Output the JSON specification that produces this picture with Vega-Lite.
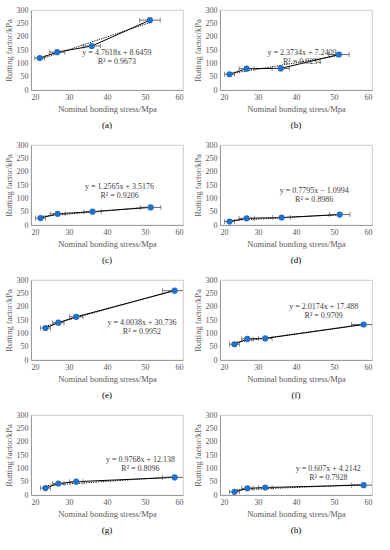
{
  "$schema": "https://vega.github.io/schema/vega-lite/v6.json",
  "padding": {"left": 3, "top": 5, "right": 4, "bottom": 4},
  "datasets": {"all": [
    {"panel": "(a)", "kind": "pt", "stress": 22.3, "factor": 120, "xlo": 21.0, "xhi": 23.6},
    {"panel": "(a)", "kind": "pt", "stress": 26.9, "factor": 142, "xlo": 24.9, "xhi": 28.9},
    {"panel": "(a)", "kind": "pt", "stress": 36.0, "factor": 165, "xlo": 33.7, "xhi": 38.3},
    {"panel": "(a)", "kind": "pt", "stress": 51.3, "factor": 262, "xlo": 48.6, "xhi": 54.0, "ylo": 254, "yhi": 270},
    {"panel": "(a)", "kind": "trend", "stress": 22.3, "factor": 114.8},
    {"panel": "(a)", "kind": "trend", "stress": 51.3, "factor": 252.9},
    {"panel": "(a)", "kind": "eq", "stress": 42.6, "factor": 140, "label": "y = 4.7618x + 8.6459\nR² = 0.9673"},
    {"panel": "(b)", "kind": "pt", "stress": 22.5, "factor": 59, "xlo": 21.2, "xhi": 23.8},
    {"panel": "(b)", "kind": "pt", "stress": 27.0, "factor": 80, "xlo": 25.0, "xhi": 29.0},
    {"panel": "(b)", "kind": "pt", "stress": 36.0, "factor": 81, "xlo": 33.7, "xhi": 38.3},
    {"panel": "(b)", "kind": "pt", "stress": 51.3, "factor": 133, "xlo": 48.6, "xhi": 54.0},
    {"panel": "(b)", "kind": "trend", "stress": 22.5, "factor": 60.6},
    {"panel": "(b)", "kind": "trend", "stress": 51.3, "factor": 129.0},
    {"panel": "(b)", "kind": "eq", "stress": 41.6, "factor": 138, "label": "y = 2.3734x + 7.2409\nR² = 0.9234"},
    {"panel": "(c)", "kind": "pt", "stress": 22.5, "factor": 26, "xlo": 21.2, "xhi": 23.8},
    {"panel": "(c)", "kind": "pt", "stress": 27.0, "factor": 42, "xlo": 25.0, "xhi": 29.0},
    {"panel": "(c)", "kind": "pt", "stress": 36.2, "factor": 50, "xlo": 33.9, "xhi": 38.5},
    {"panel": "(c)", "kind": "pt", "stress": 51.5, "factor": 66, "xlo": 48.8, "xhi": 54.2},
    {"panel": "(c)", "kind": "trend", "stress": 22.5, "factor": 31.8},
    {"panel": "(c)", "kind": "trend", "stress": 51.5, "factor": 68.2},
    {"panel": "(c)", "kind": "eq", "stress": 43.3, "factor": 141, "label": "y = 1.2565x + 3.5176\nR² = 0.9206"},
    {"panel": "(d)", "kind": "pt", "stress": 22.5, "factor": 13, "xlo": 21.2, "xhi": 23.8},
    {"panel": "(d)", "kind": "pt", "stress": 27.0, "factor": 25, "xlo": 25.0, "xhi": 29.0},
    {"panel": "(d)", "kind": "pt", "stress": 36.2, "factor": 28, "xlo": 33.9, "xhi": 38.5},
    {"panel": "(d)", "kind": "pt", "stress": 51.5, "factor": 39, "xlo": 48.8, "xhi": 54.2},
    {"panel": "(d)", "kind": "trend", "stress": 22.5, "factor": 16.4},
    {"panel": "(d)", "kind": "trend", "stress": 51.5, "factor": 39.0},
    {"panel": "(d)", "kind": "eq", "stress": 44.8, "factor": 128, "label": "y = 0.7795x − 1.0994\nR² = 0.8986"},
    {"panel": "(e)", "kind": "pt", "stress": 23.8, "factor": 120, "xlo": 22.5, "xhi": 25.1},
    {"panel": "(e)", "kind": "pt", "stress": 27.2, "factor": 140, "xlo": 25.7, "xhi": 28.7},
    {"panel": "(e)", "kind": "pt", "stress": 31.9, "factor": 162, "xlo": 30.1, "xhi": 33.7},
    {"panel": "(e)", "kind": "pt", "stress": 57.8, "factor": 260, "xlo": 54.6, "xhi": 61.0, "ylo": 252, "yhi": 268},
    {"panel": "(e)", "kind": "trend", "stress": 23.8, "factor": 126.0},
    {"panel": "(e)", "kind": "trend", "stress": 57.8, "factor": 262.2},
    {"panel": "(e)", "kind": "eq", "stress": 49.2, "factor": 137, "label": "y = 4.0038x + 30.736\nR² = 0.9952"},
    {"panel": "(f)", "kind": "pt", "stress": 23.8, "factor": 59, "xlo": 22.5, "xhi": 25.1},
    {"panel": "(f)", "kind": "pt", "stress": 27.2, "factor": 79, "xlo": 25.7, "xhi": 28.7},
    {"panel": "(f)", "kind": "pt", "stress": 31.9, "factor": 81, "xlo": 30.1, "xhi": 33.7},
    {"panel": "(f)", "kind": "pt", "stress": 57.8, "factor": 133, "xlo": 54.6, "xhi": 61.0},
    {"panel": "(f)", "kind": "trend", "stress": 23.8, "factor": 65.5},
    {"panel": "(f)", "kind": "trend", "stress": 57.8, "factor": 134.1},
    {"panel": "(f)", "kind": "eq", "stress": 47.3, "factor": 198, "label": "y = 2.0174x + 17.488\nR² = 0.9709"},
    {"panel": "(g)", "kind": "pt", "stress": 23.8, "factor": 26, "xlo": 22.5, "xhi": 25.1},
    {"panel": "(g)", "kind": "pt", "stress": 27.2, "factor": 43, "xlo": 25.7, "xhi": 28.7},
    {"panel": "(g)", "kind": "pt", "stress": 31.9, "factor": 50, "xlo": 30.1, "xhi": 33.7},
    {"panel": "(g)", "kind": "pt", "stress": 57.8, "factor": 66, "xlo": 54.6, "xhi": 61.0},
    {"panel": "(g)", "kind": "trend", "stress": 23.8, "factor": 35.4},
    {"panel": "(g)", "kind": "trend", "stress": 57.8, "factor": 68.6},
    {"panel": "(g)", "kind": "eq", "stress": 48.8, "factor": 130, "label": "y = 0.9768x + 12.138\nR² = 0.8096"},
    {"panel": "(h)", "kind": "pt", "stress": 23.8, "factor": 12, "xlo": 22.5, "xhi": 25.1},
    {"panel": "(h)", "kind": "pt", "stress": 27.2, "factor": 25, "xlo": 25.7, "xhi": 28.7},
    {"panel": "(h)", "kind": "pt", "stress": 31.9, "factor": 28, "xlo": 30.1, "xhi": 33.7},
    {"panel": "(h)", "kind": "pt", "stress": 57.8, "factor": 37, "xlo": 54.6, "xhi": 61.0},
    {"panel": "(h)", "kind": "trend", "stress": 23.8, "factor": 18.7},
    {"panel": "(h)", "kind": "trend", "stress": 57.8, "factor": 39.3},
    {"panel": "(h)", "kind": "eq", "stress": 48.5, "factor": 98, "label": "y = 0.607x + 4.2142\nR² = 0.7928"}
  ]},
  "columns": 2,
  "spacing": {"row": 10, "column": 8},
  "concat": [
    {"data": {"name": "all"}, "transform": [{"filter": "datum.panel == '(a)'"}], "title": "(a)", "width": 152, "height": 80,
     "encoding": {"x": {"field": "stress", "type": "quantitative", "scale": {"domain": [20, 60], "nice": false, "zero": false}, "axis": {"title": "Nominal bonding stress/Mpa", "values": [20, 30, 40, 50, 60]}},
                  "y": {"field": "factor", "type": "quantitative", "scale": {"domain": [0, 300], "nice": false}, "axis": {"title": "Rutting factor/kPa", "values": [0, 50, 100, 150, 200, 250, 300]}}},
     "layer": [
      {"transform": [{"filter": "datum.kind == 'trend'"}], "mark": {"type": "line", "color": "#000000", "strokeWidth": 1, "strokeDash": [1.2, 1.2]}},
      {"transform": [{"filter": "datum.kind == 'pt'"}], "mark": {"type": "line", "color": "#000000", "strokeWidth": 1}},
      {"transform": [{"filter": "datum.kind == 'pt'"}], "mark": {"type": "rule", "color": "#404040", "strokeWidth": 0.8, "clip": true},
       "encoding": {"x": {"field": "xlo", "type": "quantitative", "scale": {"domain": [20, 60], "nice": false, "zero": false}, "axis": {"title": "Nominal bonding stress/Mpa", "values": [20, 30, 40, 50, 60]}}, "x2": {"field": "xhi"}}},
      {"transform": [{"filter": "datum.kind == 'pt'"}], "mark": {"type": "tick", "color": "#404040", "orient": "vertical", "size": 5, "thickness": 0.8, "clip": true},
       "encoding": {"x": {"field": "xlo", "type": "quantitative", "scale": {"domain": [20, 60], "nice": false, "zero": false}, "axis": {"title": "Nominal bonding stress/Mpa", "values": [20, 30, 40, 50, 60]}}}},
      {"transform": [{"filter": "datum.kind == 'pt'"}], "mark": {"type": "tick", "color": "#404040", "orient": "vertical", "size": 5, "thickness": 0.8, "clip": true},
       "encoding": {"x": {"field": "xhi", "type": "quantitative", "scale": {"domain": [20, 60], "nice": false, "zero": false}, "axis": {"title": "Nominal bonding stress/Mpa", "values": [20, 30, 40, 50, 60]}}}},
      {"transform": [{"filter": "datum.kind == 'pt' && isValid(datum.ylo)"}], "mark": {"type": "rule", "color": "#404040", "strokeWidth": 0.8},
       "encoding": {"y": {"field": "ylo", "type": "quantitative", "scale": {"domain": [0, 300], "nice": false}, "axis": {"title": "Rutting factor/kPa", "values": [0, 50, 100, 150, 200, 250, 300]}}, "y2": {"field": "yhi"}}},
      {"transform": [{"filter": "datum.kind == 'pt'"}], "mark": {"type": "circle", "color": "#2271c9", "opacity": 1, "size": 38}},
      {"transform": [{"filter": "datum.kind == 'eq'"}], "mark": {"type": "text", "lineBreak": "\n", "align": "center", "baseline": "middle", "fontSize": 8, "lineHeight": 9, "color": "#404040"}, "encoding": {"text": {"field": "label"}}}
     ]},
    {"data": {"name": "all"}, "transform": [{"filter": "datum.panel == '(b)'"}], "title": "(b)", "width": 152, "height": 80,
     "encoding": {"x": {"field": "stress", "type": "quantitative", "scale": {"domain": [20, 60], "nice": false, "zero": false}, "axis": {"title": "Nominal bonding stress/Mpa", "values": [20, 30, 40, 50, 60]}},
                  "y": {"field": "factor", "type": "quantitative", "scale": {"domain": [0, 300], "nice": false}, "axis": {"title": "Rutting factor/kPa", "values": [0, 50, 100, 150, 200, 250, 300]}}},
     "layer": [
      {"transform": [{"filter": "datum.kind == 'trend'"}], "mark": {"type": "line", "color": "#000000", "strokeWidth": 1, "strokeDash": [1.2, 1.2]}},
      {"transform": [{"filter": "datum.kind == 'pt'"}], "mark": {"type": "line", "color": "#000000", "strokeWidth": 1}},
      {"transform": [{"filter": "datum.kind == 'pt'"}], "mark": {"type": "rule", "color": "#404040", "strokeWidth": 0.8, "clip": true},
       "encoding": {"x": {"field": "xlo", "type": "quantitative", "scale": {"domain": [20, 60], "nice": false, "zero": false}, "axis": {"title": "Nominal bonding stress/Mpa", "values": [20, 30, 40, 50, 60]}}, "x2": {"field": "xhi"}}},
      {"transform": [{"filter": "datum.kind == 'pt'"}], "mark": {"type": "tick", "color": "#404040", "orient": "vertical", "size": 5, "thickness": 0.8, "clip": true},
       "encoding": {"x": {"field": "xlo", "type": "quantitative", "scale": {"domain": [20, 60], "nice": false, "zero": false}, "axis": {"title": "Nominal bonding stress/Mpa", "values": [20, 30, 40, 50, 60]}}}},
      {"transform": [{"filter": "datum.kind == 'pt'"}], "mark": {"type": "tick", "color": "#404040", "orient": "vertical", "size": 5, "thickness": 0.8, "clip": true},
       "encoding": {"x": {"field": "xhi", "type": "quantitative", "scale": {"domain": [20, 60], "nice": false, "zero": false}, "axis": {"title": "Nominal bonding stress/Mpa", "values": [20, 30, 40, 50, 60]}}}},
      {"transform": [{"filter": "datum.kind == 'pt' && isValid(datum.ylo)"}], "mark": {"type": "rule", "color": "#404040", "strokeWidth": 0.8},
       "encoding": {"y": {"field": "ylo", "type": "quantitative", "scale": {"domain": [0, 300], "nice": false}, "axis": {"title": "Rutting factor/kPa", "values": [0, 50, 100, 150, 200, 250, 300]}}, "y2": {"field": "yhi"}}},
      {"transform": [{"filter": "datum.kind == 'pt'"}], "mark": {"type": "circle", "color": "#2271c9", "opacity": 1, "size": 38}},
      {"transform": [{"filter": "datum.kind == 'eq'"}], "mark": {"type": "text", "lineBreak": "\n", "align": "center", "baseline": "middle", "fontSize": 8, "lineHeight": 9, "color": "#404040"}, "encoding": {"text": {"field": "label"}}}
     ]},
    {"data": {"name": "all"}, "transform": [{"filter": "datum.panel == '(c)'"}], "title": "(c)", "width": 152, "height": 80,
     "encoding": {"x": {"field": "stress", "type": "quantitative", "scale": {"domain": [20, 60], "nice": false, "zero": false}, "axis": {"title": "Nominal bonding stress/Mpa", "values": [20, 30, 40, 50, 60]}},
                  "y": {"field": "factor", "type": "quantitative", "scale": {"domain": [0, 300], "nice": false}, "axis": {"title": "Rutting factor/kPa", "values": [0, 50, 100, 150, 200, 250, 300]}}},
     "layer": [
      {"transform": [{"filter": "datum.kind == 'trend'"}], "mark": {"type": "line", "color": "#000000", "strokeWidth": 1, "strokeDash": [1.2, 1.2]}},
      {"transform": [{"filter": "datum.kind == 'pt'"}], "mark": {"type": "line", "color": "#000000", "strokeWidth": 1}},
      {"transform": [{"filter": "datum.kind == 'pt'"}], "mark": {"type": "rule", "color": "#404040", "strokeWidth": 0.8, "clip": true},
       "encoding": {"x": {"field": "xlo", "type": "quantitative", "scale": {"domain": [20, 60], "nice": false, "zero": false}, "axis": {"title": "Nominal bonding stress/Mpa", "values": [20, 30, 40, 50, 60]}}, "x2": {"field": "xhi"}}},
      {"transform": [{"filter": "datum.kind == 'pt'"}], "mark": {"type": "tick", "color": "#404040", "orient": "vertical", "size": 5, "thickness": 0.8, "clip": true},
       "encoding": {"x": {"field": "xlo", "type": "quantitative", "scale": {"domain": [20, 60], "nice": false, "zero": false}, "axis": {"title": "Nominal bonding stress/Mpa", "values": [20, 30, 40, 50, 60]}}}},
      {"transform": [{"filter": "datum.kind == 'pt'"}], "mark": {"type": "tick", "color": "#404040", "orient": "vertical", "size": 5, "thickness": 0.8, "clip": true},
       "encoding": {"x": {"field": "xhi", "type": "quantitative", "scale": {"domain": [20, 60], "nice": false, "zero": false}, "axis": {"title": "Nominal bonding stress/Mpa", "values": [20, 30, 40, 50, 60]}}}},
      {"transform": [{"filter": "datum.kind == 'pt' && isValid(datum.ylo)"}], "mark": {"type": "rule", "color": "#404040", "strokeWidth": 0.8},
       "encoding": {"y": {"field": "ylo", "type": "quantitative", "scale": {"domain": [0, 300], "nice": false}, "axis": {"title": "Rutting factor/kPa", "values": [0, 50, 100, 150, 200, 250, 300]}}, "y2": {"field": "yhi"}}},
      {"transform": [{"filter": "datum.kind == 'pt'"}], "mark": {"type": "circle", "color": "#2271c9", "opacity": 1, "size": 38}},
      {"transform": [{"filter": "datum.kind == 'eq'"}], "mark": {"type": "text", "lineBreak": "\n", "align": "center", "baseline": "middle", "fontSize": 8, "lineHeight": 9, "color": "#404040"}, "encoding": {"text": {"field": "label"}}}
     ]},
    {"data": {"name": "all"}, "transform": [{"filter": "datum.panel == '(d)'"}], "title": "(d)", "width": 152, "height": 80,
     "encoding": {"x": {"field": "stress", "type": "quantitative", "scale": {"domain": [20, 60], "nice": false, "zero": false}, "axis": {"title": "Nominal bonding stress/Mpa", "values": [20, 30, 40, 50, 60]}},
                  "y": {"field": "factor", "type": "quantitative", "scale": {"domain": [0, 300], "nice": false}, "axis": {"title": "Rutting factor/kPa", "values": [0, 50, 100, 150, 200, 250, 300]}}},
     "layer": [
      {"transform": [{"filter": "datum.kind == 'trend'"}], "mark": {"type": "line", "color": "#000000", "strokeWidth": 1, "strokeDash": [1.2, 1.2]}},
      {"transform": [{"filter": "datum.kind == 'pt'"}], "mark": {"type": "line", "color": "#000000", "strokeWidth": 1}},
      {"transform": [{"filter": "datum.kind == 'pt'"}], "mark": {"type": "rule", "color": "#404040", "strokeWidth": 0.8, "clip": true},
       "encoding": {"x": {"field": "xlo", "type": "quantitative", "scale": {"domain": [20, 60], "nice": false, "zero": false}, "axis": {"title": "Nominal bonding stress/Mpa", "values": [20, 30, 40, 50, 60]}}, "x2": {"field": "xhi"}}},
      {"transform": [{"filter": "datum.kind == 'pt'"}], "mark": {"type": "tick", "color": "#404040", "orient": "vertical", "size": 5, "thickness": 0.8, "clip": true},
       "encoding": {"x": {"field": "xlo", "type": "quantitative", "scale": {"domain": [20, 60], "nice": false, "zero": false}, "axis": {"title": "Nominal bonding stress/Mpa", "values": [20, 30, 40, 50, 60]}}}},
      {"transform": [{"filter": "datum.kind == 'pt'"}], "mark": {"type": "tick", "color": "#404040", "orient": "vertical", "size": 5, "thickness": 0.8, "clip": true},
       "encoding": {"x": {"field": "xhi", "type": "quantitative", "scale": {"domain": [20, 60], "nice": false, "zero": false}, "axis": {"title": "Nominal bonding stress/Mpa", "values": [20, 30, 40, 50, 60]}}}},
      {"transform": [{"filter": "datum.kind == 'pt' && isValid(datum.ylo)"}], "mark": {"type": "rule", "color": "#404040", "strokeWidth": 0.8},
       "encoding": {"y": {"field": "ylo", "type": "quantitative", "scale": {"domain": [0, 300], "nice": false}, "axis": {"title": "Rutting factor/kPa", "values": [0, 50, 100, 150, 200, 250, 300]}}, "y2": {"field": "yhi"}}},
      {"transform": [{"filter": "datum.kind == 'pt'"}], "mark": {"type": "circle", "color": "#2271c9", "opacity": 1, "size": 38}},
      {"transform": [{"filter": "datum.kind == 'eq'"}], "mark": {"type": "text", "lineBreak": "\n", "align": "center", "baseline": "middle", "fontSize": 8, "lineHeight": 9, "color": "#404040"}, "encoding": {"text": {"field": "label"}}}
     ]},
    {"data": {"name": "all"}, "transform": [{"filter": "datum.panel == '(e)'"}], "title": "(e)", "width": 152, "height": 80,
     "encoding": {"x": {"field": "stress", "type": "quantitative", "scale": {"domain": [20, 60], "nice": false, "zero": false}, "axis": {"title": "Nominal bonding stress/Mpa", "values": [20, 30, 40, 50, 60]}},
                  "y": {"field": "factor", "type": "quantitative", "scale": {"domain": [0, 300], "nice": false}, "axis": {"title": "Rutting factor/kPa", "values": [0, 50, 100, 150, 200, 250, 300]}}},
     "layer": [
      {"transform": [{"filter": "datum.kind == 'trend'"}], "mark": {"type": "line", "color": "#000000", "strokeWidth": 1, "strokeDash": [1.2, 1.2]}},
      {"transform": [{"filter": "datum.kind == 'pt'"}], "mark": {"type": "line", "color": "#000000", "strokeWidth": 1}},
      {"transform": [{"filter": "datum.kind == 'pt'"}], "mark": {"type": "rule", "color": "#404040", "strokeWidth": 0.8, "clip": true},
       "encoding": {"x": {"field": "xlo", "type": "quantitative", "scale": {"domain": [20, 60], "nice": false, "zero": false}, "axis": {"title": "Nominal bonding stress/Mpa", "values": [20, 30, 40, 50, 60]}}, "x2": {"field": "xhi"}}},
      {"transform": [{"filter": "datum.kind == 'pt'"}], "mark": {"type": "tick", "color": "#404040", "orient": "vertical", "size": 5, "thickness": 0.8, "clip": true},
       "encoding": {"x": {"field": "xlo", "type": "quantitative", "scale": {"domain": [20, 60], "nice": false, "zero": false}, "axis": {"title": "Nominal bonding stress/Mpa", "values": [20, 30, 40, 50, 60]}}}},
      {"transform": [{"filter": "datum.kind == 'pt'"}], "mark": {"type": "tick", "color": "#404040", "orient": "vertical", "size": 5, "thickness": 0.8, "clip": true},
       "encoding": {"x": {"field": "xhi", "type": "quantitative", "scale": {"domain": [20, 60], "nice": false, "zero": false}, "axis": {"title": "Nominal bonding stress/Mpa", "values": [20, 30, 40, 50, 60]}}}},
      {"transform": [{"filter": "datum.kind == 'pt' && isValid(datum.ylo)"}], "mark": {"type": "rule", "color": "#404040", "strokeWidth": 0.8},
       "encoding": {"y": {"field": "ylo", "type": "quantitative", "scale": {"domain": [0, 300], "nice": false}, "axis": {"title": "Rutting factor/kPa", "values": [0, 50, 100, 150, 200, 250, 300]}}, "y2": {"field": "yhi"}}},
      {"transform": [{"filter": "datum.kind == 'pt'"}], "mark": {"type": "circle", "color": "#2271c9", "opacity": 1, "size": 38}},
      {"transform": [{"filter": "datum.kind == 'eq'"}], "mark": {"type": "text", "lineBreak": "\n", "align": "center", "baseline": "middle", "fontSize": 8, "lineHeight": 9, "color": "#404040"}, "encoding": {"text": {"field": "label"}}}
     ]},
    {"data": {"name": "all"}, "transform": [{"filter": "datum.panel == '(f)'"}], "title": "(f)", "width": 152, "height": 80,
     "encoding": {"x": {"field": "stress", "type": "quantitative", "scale": {"domain": [20, 60], "nice": false, "zero": false}, "axis": {"title": "Nominal bonding stress/Mpa", "values": [20, 30, 40, 50, 60]}},
                  "y": {"field": "factor", "type": "quantitative", "scale": {"domain": [0, 300], "nice": false}, "axis": {"title": "Rutting factor/kPa", "values": [0, 50, 100, 150, 200, 250, 300]}}},
     "layer": [
      {"transform": [{"filter": "datum.kind == 'trend'"}], "mark": {"type": "line", "color": "#000000", "strokeWidth": 1, "strokeDash": [1.2, 1.2]}},
      {"transform": [{"filter": "datum.kind == 'pt'"}], "mark": {"type": "line", "color": "#000000", "strokeWidth": 1}},
      {"transform": [{"filter": "datum.kind == 'pt'"}], "mark": {"type": "rule", "color": "#404040", "strokeWidth": 0.8, "clip": true},
       "encoding": {"x": {"field": "xlo", "type": "quantitative", "scale": {"domain": [20, 60], "nice": false, "zero": false}, "axis": {"title": "Nominal bonding stress/Mpa", "values": [20, 30, 40, 50, 60]}}, "x2": {"field": "xhi"}}},
      {"transform": [{"filter": "datum.kind == 'pt'"}], "mark": {"type": "tick", "color": "#404040", "orient": "vertical", "size": 5, "thickness": 0.8, "clip": true},
       "encoding": {"x": {"field": "xlo", "type": "quantitative", "scale": {"domain": [20, 60], "nice": false, "zero": false}, "axis": {"title": "Nominal bonding stress/Mpa", "values": [20, 30, 40, 50, 60]}}}},
      {"transform": [{"filter": "datum.kind == 'pt'"}], "mark": {"type": "tick", "color": "#404040", "orient": "vertical", "size": 5, "thickness": 0.8, "clip": true},
       "encoding": {"x": {"field": "xhi", "type": "quantitative", "scale": {"domain": [20, 60], "nice": false, "zero": false}, "axis": {"title": "Nominal bonding stress/Mpa", "values": [20, 30, 40, 50, 60]}}}},
      {"transform": [{"filter": "datum.kind == 'pt' && isValid(datum.ylo)"}], "mark": {"type": "rule", "color": "#404040", "strokeWidth": 0.8},
       "encoding": {"y": {"field": "ylo", "type": "quantitative", "scale": {"domain": [0, 300], "nice": false}, "axis": {"title": "Rutting factor/kPa", "values": [0, 50, 100, 150, 200, 250, 300]}}, "y2": {"field": "yhi"}}},
      {"transform": [{"filter": "datum.kind == 'pt'"}], "mark": {"type": "circle", "color": "#2271c9", "opacity": 1, "size": 38}},
      {"transform": [{"filter": "datum.kind == 'eq'"}], "mark": {"type": "text", "lineBreak": "\n", "align": "center", "baseline": "middle", "fontSize": 8, "lineHeight": 9, "color": "#404040"}, "encoding": {"text": {"field": "label"}}}
     ]},
    {"data": {"name": "all"}, "transform": [{"filter": "datum.panel == '(g)'"}], "title": "(g)", "width": 152, "height": 80,
     "encoding": {"x": {"field": "stress", "type": "quantitative", "scale": {"domain": [20, 60], "nice": false, "zero": false}, "axis": {"title": "Nominal bonding stress/Mpa", "values": [20, 30, 40, 50, 60]}},
                  "y": {"field": "factor", "type": "quantitative", "scale": {"domain": [0, 300], "nice": false}, "axis": {"title": "Rutting factor/kPa", "values": [0, 50, 100, 150, 200, 250, 300]}}},
     "layer": [
      {"transform": [{"filter": "datum.kind == 'trend'"}], "mark": {"type": "line", "color": "#000000", "strokeWidth": 1, "strokeDash": [1.2, 1.2]}},
      {"transform": [{"filter": "datum.kind == 'pt'"}], "mark": {"type": "line", "color": "#000000", "strokeWidth": 1}},
      {"transform": [{"filter": "datum.kind == 'pt'"}], "mark": {"type": "rule", "color": "#404040", "strokeWidth": 0.8, "clip": true},
       "encoding": {"x": {"field": "xlo", "type": "quantitative", "scale": {"domain": [20, 60], "nice": false, "zero": false}, "axis": {"title": "Nominal bonding stress/Mpa", "values": [20, 30, 40, 50, 60]}}, "x2": {"field": "xhi"}}},
      {"transform": [{"filter": "datum.kind == 'pt'"}], "mark": {"type": "tick", "color": "#404040", "orient": "vertical", "size": 5, "thickness": 0.8, "clip": true},
       "encoding": {"x": {"field": "xlo", "type": "quantitative", "scale": {"domain": [20, 60], "nice": false, "zero": false}, "axis": {"title": "Nominal bonding stress/Mpa", "values": [20, 30, 40, 50, 60]}}}},
      {"transform": [{"filter": "datum.kind == 'pt'"}], "mark": {"type": "tick", "color": "#404040", "orient": "vertical", "size": 5, "thickness": 0.8, "clip": true},
       "encoding": {"x": {"field": "xhi", "type": "quantitative", "scale": {"domain": [20, 60], "nice": false, "zero": false}, "axis": {"title": "Nominal bonding stress/Mpa", "values": [20, 30, 40, 50, 60]}}}},
      {"transform": [{"filter": "datum.kind == 'pt' && isValid(datum.ylo)"}], "mark": {"type": "rule", "color": "#404040", "strokeWidth": 0.8},
       "encoding": {"y": {"field": "ylo", "type": "quantitative", "scale": {"domain": [0, 300], "nice": false}, "axis": {"title": "Rutting factor/kPa", "values": [0, 50, 100, 150, 200, 250, 300]}}, "y2": {"field": "yhi"}}},
      {"transform": [{"filter": "datum.kind == 'pt'"}], "mark": {"type": "circle", "color": "#2271c9", "opacity": 1, "size": 38}},
      {"transform": [{"filter": "datum.kind == 'eq'"}], "mark": {"type": "text", "lineBreak": "\n", "align": "center", "baseline": "middle", "fontSize": 8, "lineHeight": 9, "color": "#404040"}, "encoding": {"text": {"field": "label"}}}
     ]},
    {"data": {"name": "all"}, "transform": [{"filter": "datum.panel == '(h)'"}], "title": "(h)", "width": 152, "height": 80,
     "encoding": {"x": {"field": "stress", "type": "quantitative", "scale": {"domain": [20, 60], "nice": false, "zero": false}, "axis": {"title": "Nominal bonding stress/Mpa", "values": [20, 30, 40, 50, 60]}},
                  "y": {"field": "factor", "type": "quantitative", "scale": {"domain": [0, 300], "nice": false}, "axis": {"title": "Rutting factor/kPa", "values": [0, 50, 100, 150, 200, 250, 300]}}},
     "layer": [
      {"transform": [{"filter": "datum.kind == 'trend'"}], "mark": {"type": "line", "color": "#000000", "strokeWidth": 1, "strokeDash": [1.2, 1.2]}},
      {"transform": [{"filter": "datum.kind == 'pt'"}], "mark": {"type": "line", "color": "#000000", "strokeWidth": 1}},
      {"transform": [{"filter": "datum.kind == 'pt'"}], "mark": {"type": "rule", "color": "#404040", "strokeWidth": 0.8, "clip": true},
       "encoding": {"x": {"field": "xlo", "type": "quantitative", "scale": {"domain": [20, 60], "nice": false, "zero": false}, "axis": {"title": "Nominal bonding stress/Mpa", "values": [20, 30, 40, 50, 60]}}, "x2": {"field": "xhi"}}},
      {"transform": [{"filter": "datum.kind == 'pt'"}], "mark": {"type": "tick", "color": "#404040", "orient": "vertical", "size": 5, "thickness": 0.8, "clip": true},
       "encoding": {"x": {"field": "xlo", "type": "quantitative", "scale": {"domain": [20, 60], "nice": false, "zero": false}, "axis": {"title": "Nominal bonding stress/Mpa", "values": [20, 30, 40, 50, 60]}}}},
      {"transform": [{"filter": "datum.kind == 'pt'"}], "mark": {"type": "tick", "color": "#404040", "orient": "vertical", "size": 5, "thickness": 0.8, "clip": true},
       "encoding": {"x": {"field": "xhi", "type": "quantitative", "scale": {"domain": [20, 60], "nice": false, "zero": false}, "axis": {"title": "Nominal bonding stress/Mpa", "values": [20, 30, 40, 50, 60]}}}},
      {"transform": [{"filter": "datum.kind == 'pt' && isValid(datum.ylo)"}], "mark": {"type": "rule", "color": "#404040", "strokeWidth": 0.8},
       "encoding": {"y": {"field": "ylo", "type": "quantitative", "scale": {"domain": [0, 300], "nice": false}, "axis": {"title": "Rutting factor/kPa", "values": [0, 50, 100, 150, 200, 250, 300]}}, "y2": {"field": "yhi"}}},
      {"transform": [{"filter": "datum.kind == 'pt'"}], "mark": {"type": "circle", "color": "#2271c9", "opacity": 1, "size": 38}},
      {"transform": [{"filter": "datum.kind == 'eq'"}], "mark": {"type": "text", "lineBreak": "\n", "align": "center", "baseline": "middle", "fontSize": 8, "lineHeight": 9, "color": "#404040"}, "encoding": {"text": {"field": "label"}}}
     ]}
  ],
  "config": {
    "font": "Liberation Serif",
    "view": {"stroke": "#bfbfbf", "strokeWidth": 0.8},
    "title": {"orient": "bottom", "anchor": "middle", "frame": "group", "offset": 8, "font": "Liberation Serif", "fontSize": 9, "fontWeight": "normal", "color": "#000000"},
    "text": {"font": "Liberation Serif"},
    "axis": {
      "grid": false, "ticks": false,
      "labelFont": "Liberation Serif", "labelFontSize": 8, "labelColor": "#595959", "labelPadding": 3,
      "titleFont": "Liberation Serif", "titleFontSize": 8.5, "titleFontWeight": "normal", "titleColor": "#595959",
      "titlePadding": 3, "domainColor": "#8c8c8c", "domainWidth": 0.8
    }
  }
}
